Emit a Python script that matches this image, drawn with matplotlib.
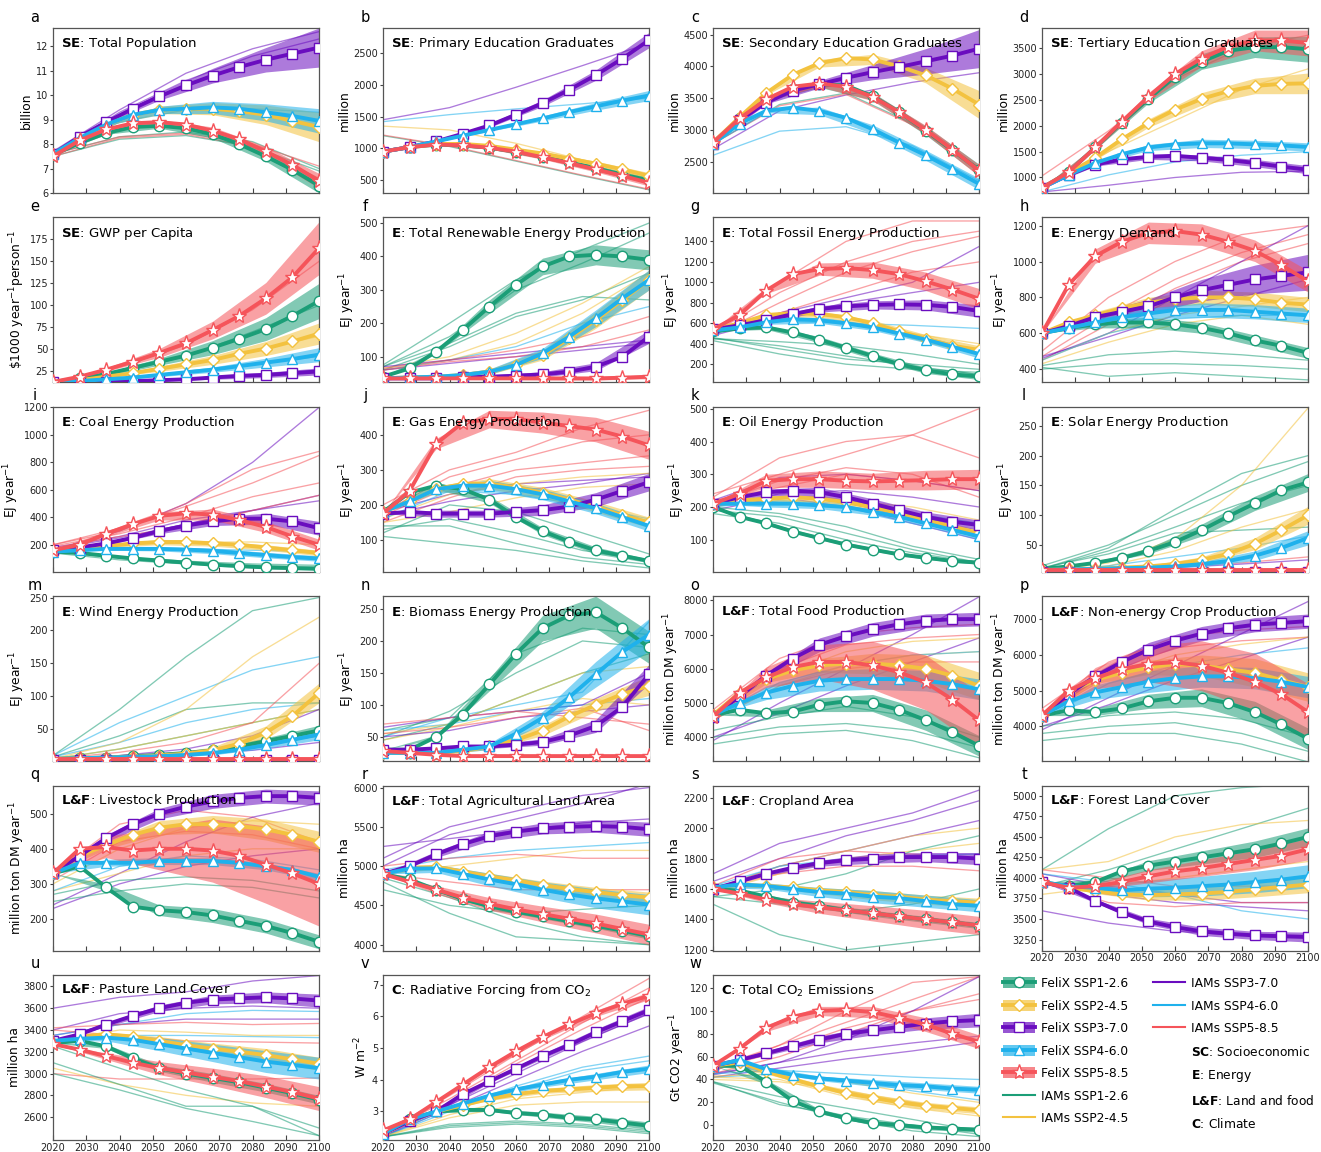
import numpy as np
import matplotlib
matplotlib.use("Agg")
import matplotlib.pyplot as plt
from matplotlib.patches import Patch
from matplotlib.lines import Line2D
from matplotlib.mathtext import MathTextParser

# ---------------- data ----------------
YEARS = [2020, 2028, 2036, 2044, 2052, 2060, 2068, 2076, 2084, 2092, 2100]
BAND_YEARS = [2020, 2036, 2052, 2068, 2084, 2100]
IAM_YEARS = [2020, 2040, 2060, 2080, 2100]
SSP = ["SSP1-2.6", "SSP2-4.5", "SSP3-7.0", "SSP4-6.0", "SSP5-8.5"]

# a: Total Population (billion)
a_felix = [[7.55, 8.05, 8.45, 8.7, 8.75, 8.65, 8.4, 8.0, 7.5, 6.95, 6.3],
           [7.6, 8.25, 8.8, 9.2, 9.4, 9.45, 9.45, 9.35, 9.2, 8.95, 8.7],
           [7.6, 8.3, 8.9, 9.45, 9.95, 10.4, 10.8, 11.15, 11.45, 11.7, 11.95],
           [7.6, 8.25, 8.8, 9.2, 9.4, 9.45, 9.5, 9.45, 9.3, 9.15, 8.95],
           [7.5, 8.15, 8.6, 8.85, 8.9, 8.8, 8.55, 8.2, 7.7, 7.15, 6.5]]
a_band = [[0, 0.05, 0.1, 0.15, 0.2, 0.3], [0, 0.05, 0.15, 0.25, 0.4, 0.6],
          [0, 0.05, 0.15, 0.3, 0.5, 0.8], [0, 0.05, 0.15, 0.25, 0.35, 0.5],
          [0, 0.05, 0.1, 0.15, 0.2, 0.3]]
a_iam = [(0, [7.5, 8.2, 8.35, 7.9, 6.9]), (0, [7.6, 8.3, 8.5, 8.1, 7.0]),
         (4, [7.6, 8.3, 8.45, 8.0, 7.1]), (4, [7.5, 8.25, 8.4, 7.9, 6.6]),
         (1, [7.6, 8.9, 9.4, 9.3, 9.0]), (3, [7.6, 8.9, 9.4, 9.45, 9.3]),
         (2, [7.7, 9.4, 10.9, 11.9, 12.6]), (2, [7.6, 9.3, 10.6, 11.6, 12.3])]

# b: Primary Education Graduates (million)
b_felix = [[950, 1020, 1060, 1050, 1010, 950, 870, 780, 690, 590, 500],
           [950, 1020, 1070, 1070, 1040, 980, 920, 840, 760, 670, 570],
           [950, 1020, 1110, 1230, 1360, 1530, 1710, 1920, 2150, 2410, 2700],
           [950, 1020, 1110, 1200, 1290, 1380, 1470, 1570, 1660, 1750, 1830],
           [950, 1020, 1060, 1050, 1010, 950, 860, 770, 670, 570, 460]]
b_band = [[0, 10, 20, 30, 40, 50], [0, 10, 20, 30, 40, 50], [0, 10, 30, 50, 80, 120],
          [0, 10, 20, 40, 60, 80], [0, 10, 20, 30, 40, 50]]
b_iam = [(2, [1450, 1640, 1960, 2300, 2650]), (3, [1420, 1530, 1620, 1700, 1790]),
         (1, [1350, 1290, 1080, 820, 560]), (0, [1200, 1030, 800, 570, 350]),
         (4, [1210, 1040, 810, 580, 360])]

# c: Secondary Education Graduates (million)
c_felix = [[2800, 3180, 3480, 3650, 3720, 3700, 3530, 3280, 2990, 2680, 2370],
           [2800, 3200, 3580, 3870, 4050, 4130, 4110, 4000, 3860, 3650, 3400],
           [2780, 3150, 3430, 3620, 3720, 3820, 3910, 3990, 4080, 4170, 4280],
           [2780, 3100, 3300, 3350, 3300, 3190, 3010, 2800, 2600, 2380, 2150],
           [2800, 3180, 3480, 3680, 3730, 3680, 3520, 3280, 3000, 2690, 2360]]
c_band = [[0, 20, 50, 60, 70, 90], [0, 30, 60, 80, 120, 220], [0, 20, 60, 120, 200, 300],
          [0, 30, 60, 70, 80, 90], [0, 20, 50, 60, 70, 90]]
c_iam = [(3, [2600, 2980, 3050, 2750, 2200]), (2, [2700, 3300, 3550, 3750, 3900]),
         (0, [2780, 3400, 3580, 3100, 2400]), (4, [2780, 3380, 3560, 3080, 2380])]

# d: Tertiary Education Graduates (million)
d_felix = [[800, 1100, 1580, 2060, 2520, 2950, 3240, 3450, 3520, 3520, 3480],
           [800, 1080, 1380, 1740, 2050, 2310, 2520, 2670, 2770, 2810, 2820],
           [800, 1050, 1250, 1350, 1400, 1420, 1380, 1340, 1280, 1210, 1150],
           [800, 1050, 1280, 1450, 1580, 1640, 1660, 1660, 1640, 1620, 1590],
           [800, 1100, 1580, 2080, 2560, 3000, 3300, 3530, 3650, 3650, 3600]]
d_band = [[0, 40, 80, 150, 200, 250], [0, 40, 80, 120, 150, 200], [0, 30, 50, 60, 70, 80],
          [0, 30, 60, 80, 80, 80], [0, 40, 80, 150, 200, 250]]
d_iam = [(4, [1030, 1900, 2900, 3500, 3750]), (1, [800, 1500, 2100, 2700, 3100]),
         (3, [720, 1050, 1300, 1430, 1500]), (2, [720, 850, 1000, 1100, 1120])]

# e: GWP per capita ($1000 / year / person)
e_felix = [[13, 17, 22, 29, 36, 43, 52, 62, 73, 88, 105],
           [13, 15, 19, 23, 28, 33, 38, 45, 51, 59, 68],
           [13, 13, 13, 14, 15, 16, 18, 20, 21, 23, 25],
           [13, 14, 16, 18, 21, 24, 27, 31, 35, 39, 44],
           [13, 19, 27, 36, 46, 57, 72, 88, 108, 132, 165]]
e_band = [[0, 2, 4, 8, 13, 20], [0, 1, 3, 5, 8, 12], [0, 1, 1, 2, 3, 4],
          [0, 1, 2, 3, 5, 8], [0, 2, 5, 10, 18, 30]]
e_iam = [(4, [13, 30, 55, 95, 150]), (0, [13, 24, 42, 70, 100]), (1, [13, 20, 32, 48, 65]),
         (3, [13, 17, 24, 33, 42]), (2, [13, 14, 17, 21, 26])]

# f: Total Renewable Energy Production (EJ/yr)
f_felix = [[40, 65, 115, 180, 250, 315, 370, 400, 405, 400, 390],
           [35, 38, 40, 45, 55, 75, 105, 155, 210, 270, 330],
           [35, 35, 35, 38, 40, 43, 47, 55, 70, 100, 160],
           [35, 38, 40, 45, 55, 75, 110, 160, 215, 275, 330],
           [35, 35, 35, 35, 35, 35, 35, 35, 35, 37, 40]]
f_band = [[0, 5, 20, 25, 30, 30], [0, 3, 8, 15, 25, 30], [0, 3, 5, 8, 12, 20],
          [0, 3, 8, 15, 25, 30], [0, 2, 3, 4, 5, 6]]
f_iam = [(0, [75, 200, 330, 420, 500]), (0, [70, 160, 300, 380, 470]), (0, [60, 130, 220, 270, 350]),
         (0, [70, 140, 230, 280, 270]), (1, [60, 90, 140, 230, 350]), (1, [65, 100, 170, 260, 370]),
         (3, [60, 90, 130, 200, 250]), (2, [70, 90, 110, 130, 150]), (2, [60, 80, 100, 120, 140]),
         (4, [65, 90, 120, 160, 220]), (4, [60, 85, 100, 130, 180])]

# g: Total Fossil Energy Production (EJ/yr)
g_felix = [[520, 550, 560, 510, 440, 360, 280, 200, 140, 100, 80],
           [540, 600, 680, 700, 690, 660, 600, 520, 450, 380, 340],
           [540, 580, 630, 690, 740, 765, 780, 785, 780, 760, 720],
           [530, 560, 610, 640, 630, 600, 560, 500, 440, 370, 300],
           [540, 680, 920, 1080, 1130, 1140, 1120, 1080, 1010, 930, 840]]
g_band = [[0, 20, 30, 30, 30, 30], [0, 20, 30, 30, 40, 40], [0, 20, 30, 40, 50, 60],
          [0, 20, 30, 30, 30, 40], [0, 30, 60, 80, 90, 100]]
g_iam = [(4, [500, 900, 1200, 1400, 1500]), (4, [480, 800, 1100, 1300, 1450]),
         (4, [520, 1000, 1400, 1600, 1600]), (4, [500, 700, 900, 1100, 1200]),
         (2, [480, 650, 800, 900, 1000]), (2, [500, 700, 850, 1000, 1350]),
         (1, [500, 650, 600, 500, 400]), (3, [500, 620, 600, 580, 550]),
         (0, [450, 420, 380, 300, 200]), (0, [460, 350, 250, 200, 150]),
         (0, [430, 300, 200, 150, 120]), (0, [450, 380, 280, 180, 100])]

# h: Energy Demand (EJ/yr)
h_felix = [[600, 630, 650, 660, 660, 650, 630, 600, 560, 530, 490],
           [600, 660, 700, 740, 770, 790, 800, 800, 790, 770, 760],
           [600, 640, 690, 720, 750, 800, 840, 870, 900, 920, 940],
           [600, 630, 660, 690, 710, 730, 730, 730, 720, 710, 700],
           [600, 870, 1030, 1110, 1160, 1170, 1150, 1110, 1060, 980, 890]]
h_band = [[0, 20, 30, 30, 30, 30], [0, 20, 30, 40, 40, 40], [0, 20, 40, 60, 80, 100],
          [0, 20, 30, 40, 40, 40], [0, 40, 60, 60, 60, 60]]
h_iam = [(4, [470, 700, 900, 1050, 1150]), (4, [500, 800, 1000, 1150, 1200]),
         (4, [450, 650, 850, 1000, 1100]), (2, [460, 600, 800, 1000, 1200]),
         (2, [470, 580, 700, 800, 900]), (1, [450, 600, 700, 750, 800]),
         (1, [430, 550, 650, 700, 650]), (3, [450, 600, 680, 700, 700]),
         (0, [420, 480, 500, 480, 450]), (0, [400, 430, 430, 420, 400]),
         (0, [410, 360, 380, 360, 340])]

# i: Coal Energy Production (EJ/yr)
i_felix = [[150, 140, 120, 100, 85, 70, 55, 45, 35, 30, 25],
           [160, 170, 190, 210, 220, 220, 210, 200, 180, 160, 140],
           [160, 180, 210, 250, 300, 340, 370, 390, 390, 370, 320],
           [150, 160, 170, 170, 170, 165, 155, 140, 125, 110, 100],
           [160, 200, 280, 350, 410, 430, 420, 380, 330, 260, 200]]
i_band = [[0, 10, 10, 10, 10, 10], [0, 10, 20, 20, 20, 20], [0, 10, 20, 30, 40, 50],
          [0, 10, 15, 20, 20, 20], [0, 20, 30, 40, 40, 40]]
i_iam = [(2, [160, 300, 500, 800, 1200]), (2, [180, 260, 380, 450, 520]),
         (2, [170, 250, 350, 450, 560]), (4, [200, 300, 500, 750, 880]),
         (4, [190, 280, 400, 550, 650]), (4, [180, 260, 330, 450, 560]),
         (4, [200, 320, 480, 650, 850]), (1, [170, 200, 220, 220, 200]),
         (3, [160, 170, 170, 160, 150]), (0, [150, 110, 80, 60, 50]), (0, [140, 90, 60, 50, 40])]

# j: Gas Energy Production (EJ/yr)
j_felix = [[180, 235, 255, 245, 215, 165, 125, 95, 70, 55, 40],
           [180, 210, 245, 260, 260, 250, 235, 215, 195, 170, 150],
           [175, 180, 175, 175, 175, 180, 185, 195, 215, 240, 265],
           [180, 210, 245, 255, 255, 245, 230, 210, 190, 165, 140],
           [175, 240, 375, 435, 445, 445, 435, 425, 415, 395, 370]]
j_band = [[0, 10, 10, 10, 10, 5], [0, 10, 15, 15, 15, 15], [0, 10, 10, 15, 20, 25],
          [0, 10, 15, 15, 15, 15], [0, 15, 25, 30, 35, 40]]
j_iam = [(4, [200, 300, 350, 420, 470]), (4, [180, 280, 330, 380, 400]),
         (4, [170, 250, 300, 320, 340]), (4, [150, 220, 280, 300, 310]),
         (2, [170, 210, 240, 260, 290]), (2, [180, 230, 260, 270, 280]),
         (1, [160, 230, 260, 280, 290]), (1, [150, 180, 220, 250, 260]),
         (3, [160, 240, 230, 200, 160]), (0, [120, 200, 180, 120, 60]),
         (0, [110, 90, 70, 40, 20]), (0, [130, 160, 120, 70, 40]), (0, [140, 140, 90, 50, 30])]

# k: Oil Energy Production (EJ/yr)
k_felix = [[200, 170, 150, 125, 105, 85, 70, 55, 45, 35, 30],
           [210, 220, 225, 230, 225, 215, 200, 180, 160, 140, 120],
           [210, 230, 245, 250, 245, 230, 210, 190, 170, 155, 145],
           [210, 210, 210, 210, 205, 200, 185, 170, 150, 130, 110],
           [210, 240, 280, 285, 285, 280, 278, 280, 282, 285, 285]]
k_band = [[0, 5, 5, 5, 5, 5], [0, 10, 10, 10, 10, 10], [0, 10, 15, 15, 15, 15],
          [0, 10, 10, 10, 10, 10], [0, 20, 25, 25, 30, 30]]
k_iam = [(4, [230, 350, 400, 420, 500]), (4, [240, 300, 360, 420, 350]),
         (4, [220, 260, 300, 280, 250]), (4, [210, 280, 320, 300, 230]),
         (2, [220, 290, 300, 280, 250]), (2, [200, 240, 250, 230, 200]),
         (2, [190, 230, 200, 150, 100]), (1, [200, 230, 220, 200, 160]),
         (3, [200, 220, 210, 180, 150]), (0, [200, 180, 140, 80, 40]),
         (0, [190, 170, 120, 70, 30]), (0, [180, 150, 100, 60, 30])]

# l: Solar Energy Production (EJ/yr)
l_felix = [[10, 14, 20, 28, 40, 55, 75, 98, 120, 142, 155],
           [8, 9, 10, 12, 14, 18, 25, 35, 52, 75, 100],
           [5, 5, 5, 5, 5, 5, 5, 5, 5, 5, 5],
           [8, 9, 10, 11, 12, 14, 18, 23, 32, 45, 62],
           [8, 8, 8, 8, 8, 8, 8, 8, 8, 8, 8]]
l_band = [[0, 2, 5, 10, 12, 15], [0, 1, 2, 5, 10, 15], [0, 0, 0, 0, 0, 1],
          [0, 1, 2, 4, 8, 12], [0, 1, 1, 1, 1, 1]]
l_iam = [(0, [10, 45, 110, 170, 200]), (0, [15, 50, 100, 150, 190]),
         (0, [10, 40, 80, 120, 150]), (0, [12, 35, 70, 75, 80]),
         (1, [5, 20, 60, 150, 280]), (1, [5, 15, 40, 80, 110]),
         (3, [5, 15, 30, 45, 65]), (4, [5, 10, 15, 20, 30]), (2, [3, 8, 12, 18, 25])]

# m: Wind Energy Production (EJ/yr)
m_felix = [[5, 6, 7, 9, 11, 14, 18, 24, 32, 40, 48],
           [5, 6, 7, 8, 10, 13, 18, 28, 45, 70, 105],
           [3, 3, 3, 3, 3, 3, 3, 3, 3, 3, 3],
           [5, 6, 7, 8, 9, 11, 14, 19, 26, 34, 42],
           [5, 5, 5, 5, 5, 5, 5, 5, 5, 5, 5]]
m_band = [[0, 1, 2, 3, 5, 8], [0, 1, 2, 5, 10, 15], [0, 0, 0, 0, 1, 1],
          [0, 1, 2, 3, 5, 8], [0, 0, 0, 0, 1, 1]]
m_iam = [(0, [10, 80, 160, 230, 250]), (0, [8, 40, 80, 90, 90]), (0, [5, 20, 40, 60, 80]),
         (3, [10, 60, 100, 140, 160]), (3, [8, 30, 60, 80, 90]),
         (1, [5, 30, 80, 160, 220]), (1, [5, 20, 40, 60, 80]),
         (4, [5, 15, 30, 60, 150]), (4, [5, 10, 15, 25, 40]),
         (2, [4, 10, 20, 40, 80]), (2, [3, 8, 12, 18, 30])]

# n: Biomass Energy Production (EJ/yr)
n_felix = [[30, 30, 50, 85, 132, 180, 220, 240, 245, 220, 190],
           [25, 25, 25, 28, 35, 45, 60, 82, 100, 117, 130],
           [30, 30, 32, 35, 35, 38, 42, 52, 67, 97, 148],
           [25, 25, 25, 30, 35, 55, 80, 112, 148, 183, 210],
           [28, 25, 22, 20, 20, 20, 20, 20, 20, 20, 20]]
n_band = [[0, 3, 10, 20, 25, 25], [0, 2, 5, 8, 10, 15], [0, 2, 3, 5, 10, 15],
          [0, 2, 5, 10, 20, 25], [0, 1, 1, 1, 1, 1]]
n_iam = [(0, [60, 80, 180, 220, 210]), (0, [50, 90, 150, 200, 190]), (0, [45, 70, 110, 150, 180]),
         (3, [50, 80, 100, 120, 230]), (3, [60, 70, 90, 100, 110]),
         (1, [55, 70, 110, 150, 160]), (1, [45, 65, 90, 110, 100]),
         (2, [65, 80, 90, 100, 150]), (2, [50, 60, 80, 90, 100]),
         (4, [70, 80, 90, 80, 70]), (4, [55, 65, 80, 95, 60])]

# o: Total Food Production (million ton DM/yr)
o_felix = [[4650, 4800, 4700, 4750, 4950, 5050, 5000, 4800, 4500, 4150, 3750],
           [4650, 5300, 5700, 5950, 6100, 6150, 6150, 6100, 6000, 5800, 5500],
           [4600, 5200, 5800, 6300, 6700, 6950, 7150, 7300, 7400, 7450, 7450],
           [4650, 5000, 5300, 5500, 5650, 5700, 5700, 5700, 5650, 5550, 5400],
           [4600, 5300, 5750, 6050, 6200, 6200, 6100, 5900, 5600, 5100, 4500]]
o_band = [[0, 100, 200, 250, 300, 300], [0, 100, 200, 300, 400, 400], [0, 100, 200, 200, 200, 200],
          [0, 200, 300, 300, 300, 300], [0, 300, 500, 700, 800, 800]]
o_iam = [(4, [4800, 6300, 7000, 7200, 7300]), (4, [4600, 6000, 6700, 6900, 7000]),
         (4, [4500, 5500, 6000, 6200, 6200]), (2, [3900, 5000, 6000, 7000, 8100]),
         (2, [4000, 4700, 5500, 6200, 6900]), (1, [4600, 5800, 6500, 6800, 6900]),
         (1, [4500, 5500, 6100, 6400, 6500]), (3, [4500, 5600, 6100, 6400, 6500]),
         (0, [4200, 4600, 4900, 4600, 4000]), (0, [4000, 4300, 4400, 4200, 3700]),
         (0, [3800, 4100, 4200, 3900, 3400])]

# p: Non-energy Crop Production (million ton DM/yr)
p_felix = [[4300, 4450, 4400, 4500, 4700, 4800, 4800, 4650, 4400, 4050, 3650],
           [4300, 4950, 5300, 5500, 5650, 5750, 5700, 5600, 5500, 5300, 5100],
           [4300, 4900, 5400, 5800, 6150, 6400, 6600, 6750, 6850, 6900, 6950],
           [4300, 4700, 4950, 5100, 5250, 5350, 5400, 5400, 5350, 5250, 5100],
           [4300, 5000, 5350, 5600, 5750, 5800, 5700, 5500, 5250, 4900, 4400]]
p_band = [[0, 100, 200, 250, 300, 300], [0, 100, 200, 300, 400, 400], [0, 100, 200, 200, 200, 200],
          [0, 200, 300, 300, 300, 300], [0, 300, 500, 700, 800, 800]]
p_iam = [(4, [4500, 5800, 6500, 6700, 6800]), (4, [4300, 5500, 6200, 6400, 6500]),
         (2, [3900, 4800, 5700, 6600, 7500]), (2, [4000, 4600, 5300, 5900, 6500]),
         (1, [4300, 5400, 6000, 6300, 6500]), (3, [4200, 5200, 5700, 6000, 6200]),
         (0, [4000, 4300, 4400, 4200, 3700]), (0, [3800, 4000, 4100, 3800, 3300]),
         (0, [3600, 3800, 3800, 3500, 3000])]

# q: Livestock Production (million ton DM/yr)
q_felix = [[330, 350, 290, 235, 225, 220, 210, 195, 180, 160, 135],
           [330, 380, 410, 440, 460, 470, 470, 465, 455, 440, 420],
           [330, 380, 430, 470, 500, 520, 535, 545, 550, 550, 545],
           [330, 360, 360, 360, 365, 365, 365, 360, 350, 340, 320],
           [330, 400, 405, 395, 400, 400, 395, 380, 355, 330, 300]]
q_band = [[0, 10, 15, 20, 20, 20], [0, 10, 20, 25, 30, 30], [0, 10, 15, 20, 20, 20],
          [0, 10, 10, 10, 10, 10], [0, 30, 60, 90, 110, 120]]
q_iam = [(4, [330, 470, 510, 490, 420]), (4, [310, 420, 450, 440, 400]),
         (2, [240, 330, 420, 490, 530]), (2, [230, 300, 350, 380, 400]),
         (1, [300, 400, 460, 480, 470]), (1, [280, 330, 380, 400, 400]),
         (3, [280, 350, 380, 370, 340]), (0, [270, 310, 320, 310, 280]),
         (0, [250, 280, 300, 290, 260])]

# r: Total Agricultural Land Area (million ha)
r_felix = [[4900, 4830, 4700, 4580, 4490, 4420, 4360, 4300, 4240, 4180, 4110],
           [4900, 4980, 4990, 4930, 4870, 4820, 4760, 4710, 4670, 4630, 4600],
           [4900, 5000, 5150, 5280, 5380, 5440, 5480, 5500, 5510, 5500, 5470],
           [4900, 4970, 4970, 4900, 4830, 4770, 4700, 4640, 4590, 4550, 4510],
           [4900, 4800, 4700, 4600, 4520, 4450, 4390, 4330, 4270, 4200, 4130]]
r_band = [[0, 20, 30, 30, 30, 40], [0, 30, 40, 50, 60, 70], [0, 40, 60, 70, 80, 90],
          [0, 50, 80, 100, 120, 130], [0, 50, 80, 100, 120, 130]]
r_iam = [(2, [5000, 5400, 5600, 5800, 6050]), (2, [5100, 5500, 5700, 5900, 6000]),
         (2, [5250, 5350, 5450, 5550, 5600]), (3, [4950, 5100, 5200, 5250, 5300]),
         (1, [4900, 5000, 5100, 5200, 5200]), (4, [5000, 5100, 5150, 5100, 5100]),
         (4, [4900, 4800, 4700, 4700, 4700]), (0, [4850, 4600, 4300, 4100, 4000]),
         (0, [4700, 4500, 4400, 4450, 4500]), (0, [4800, 4400, 4100, 4050, 4000])]

# s: Cropland Area (million ha)
s_felix = [[1600, 1590, 1550, 1510, 1490, 1460, 1440, 1420, 1400, 1380, 1360],
           [1610, 1630, 1620, 1610, 1590, 1580, 1560, 1550, 1530, 1520, 1510],
           [1600, 1650, 1700, 1740, 1770, 1790, 1800, 1810, 1810, 1810, 1800],
           [1610, 1630, 1620, 1600, 1580, 1570, 1550, 1540, 1520, 1500, 1490],
           [1600, 1570, 1530, 1500, 1480, 1460, 1440, 1420, 1400, 1380, 1360]]
s_band = [[0, 10, 15, 20, 20, 20], [0, 10, 20, 30, 30, 30], [0, 10, 20, 30, 30, 40],
          [0, 20, 30, 40, 40, 40], [0, 20, 40, 50, 60, 60]]
s_iam = [(2, [1650, 1800, 1950, 2050, 2180]), (2, [1700, 1900, 2000, 2100, 2250]),
         (2, [1600, 1750, 1850, 1950, 2050]), (4, [1620, 1800, 1850, 1830, 1800]),
         (4, [1600, 1700, 1750, 1750, 1720]), (1, [1600, 1750, 1850, 1950, 2000]),
         (1, [1580, 1700, 1800, 1850, 1900]), (3, [1620, 1750, 1800, 1820, 1830]),
         (0, [1550, 1500, 1450, 1500, 1600]), (0, [1500, 1300, 1200, 1250, 1300]),
         (0, [1550, 1600, 1700, 1850, 1950])]

# t: Forest Land Cover (million ha)
t_felix = [[3950, 3900, 3950, 4080, 4150, 4200, 4250, 4300, 4350, 4420, 4500],
           [3950, 3880, 3840, 3800, 3790, 3800, 3810, 3830, 3860, 3890, 3920],
           [3950, 3880, 3720, 3580, 3470, 3400, 3350, 3320, 3300, 3290, 3280],
           [3950, 3900, 3880, 3850, 3870, 3880, 3900, 3920, 3950, 3980, 4020],
           [3950, 3880, 3900, 3950, 4020, 4080, 4120, 4170, 4220, 4270, 4350]]
t_band = [[0, 30, 60, 80, 100, 110], [0, 30, 60, 80, 90, 100], [0, 20, 40, 50, 50, 60],
          [0, 50, 100, 120, 130, 140], [0, 40, 80, 100, 120, 130]]
t_iam = [(0, [4100, 4600, 5000, 5100, 5150]), (0, [3900, 4100, 4350, 4600, 4850]),
         (1, [4100, 4200, 4500, 4650, 4700]), (1, [3800, 3900, 4000, 4100, 4200]),
         (2, [3950, 3800, 3700, 3650, 3600]), (2, [3600, 3450, 3350, 3300, 3300]),
         (2, [4050, 3900, 3800, 3700, 3700]), (3, [4050, 3950, 3800, 3600, 3500]),
         (4, [3950, 3700, 3650, 3700, 3700]), (4, [4100, 4000, 3900, 3900, 3900])]

# u: Pasture Land Cover (million ha)
u_felix = [[3280, 3300, 3250, 3140, 3050, 3000, 2960, 2920, 2870, 2820, 2760],
           [3300, 3340, 3360, 3340, 3300, 3260, 3230, 3200, 3170, 3130, 3090],
           [3300, 3360, 3450, 3530, 3600, 3650, 3680, 3690, 3700, 3690, 3670],
           [3300, 3320, 3330, 3310, 3270, 3230, 3190, 3150, 3110, 3080, 3050],
           [3270, 3220, 3160, 3100, 3050, 3010, 2970, 2930, 2880, 2830, 2770]]
u_band = [[0, 20, 30, 40, 40, 40], [0, 20, 40, 50, 60, 60], [0, 20, 30, 40, 50, 60],
          [0, 30, 60, 80, 100, 100], [0, 30, 60, 80, 100, 110]]
u_iam = [(2, [3600, 3700, 3750, 3850, 3900]), (2, [3350, 3450, 3500, 3500, 3500]),
         (2, [3400, 3550, 3600, 3620, 3600]), (3, [3350, 3450, 3550, 3580, 3570]),
         (3, [3300, 3350, 3350, 3340, 3330]), (4, [3420, 3450, 3470, 3450, 3460]),
         (4, [3400, 3350, 3300, 3290, 3280]), (4, [3000, 2950, 2950, 2950, 2960]),
         (1, [3300, 3400, 3380, 3350, 3350]), (1, [3050, 2900, 2800, 2730, 2700]),
         (0, [3100, 2900, 2700, 2700, 2500]), (0, [3000, 2850, 2680, 2560, 2430]),
         (0, [3250, 3050, 2850, 2700, 2430])]

# v: Radiative Forcing from CO2 (W m-2)
v_felix = [[2.3, 2.75, 3.0, 3.05, 3.05, 2.95, 2.9, 2.8, 2.75, 2.65, 2.55],
           [2.3, 2.7, 3.0, 3.2, 3.4, 3.55, 3.65, 3.7, 3.75, 3.8, 3.8],
           [2.3, 2.7, 3.0, 3.55, 3.95, 4.35, 4.75, 5.1, 5.5, 5.85, 6.2],
           [2.3, 2.75, 3.0, 3.25, 3.5, 3.7, 3.85, 4.0, 4.1, 4.25, 4.35],
           [2.4, 2.75, 3.3, 3.85, 4.4, 4.9, 5.35, 5.75, 6.1, 6.4, 6.65]]
v_band = [[0, 0.03, 0.05, 0.08, 0.1, 0.12]] * 5
v_iam = [(4, [2.3, 3.5, 4.8, 6.0, 7.2]), (4, [2.3, 3.4, 4.6, 5.8, 6.9]),
         (4, [2.2, 3.3, 4.5, 5.6, 6.6]), (2, [2.2, 3.2, 4.2, 5.2, 6.1]),
         (2, [2.2, 3.1, 4.0, 4.9, 5.7]), (3, [2.2, 3.1, 3.8, 4.4, 4.75]),
         (3, [2.2, 3.0, 3.7, 4.3, 4.6]), (1, [2.2, 2.9, 3.4, 3.6, 3.8]),
         (1, [2.2, 2.8, 3.2, 3.3, 3.3]), (0, [2.2, 2.6, 2.7, 2.6, 2.4]),
         (0, [2.2, 2.5, 2.6, 2.5, 2.3]), (0, [2.2, 2.55, 2.65, 2.55, 2.35])]

# w: Total CO2 Emissions (Gt CO2/yr)
w_felix = [[52, 52, 38, 21, 12, 6, 2, 0, -2, -3, -4],
           [52, 55, 47, 40, 34, 28, 24, 20, 17, 15, 13],
           [52, 57, 63, 69, 75, 80, 83, 86, 89, 91, 92],
           [52, 57, 49, 44, 41, 39, 37, 35, 34, 32, 31],
           [52, 67, 85, 95, 100, 101, 99, 94, 88, 80, 73]]
w_band = [[0, 2, 2, 2, 2, 2], [0, 2, 2, 3, 3, 3], [0, 2, 3, 4, 5, 6],
          [0, 2, 2, 3, 3, 3], [0, 3, 4, 5, 6, 6]]
w_iam = [(4, [50, 70, 90, 110, 130]), (4, [48, 65, 85, 100, 115]),
         (4, [45, 60, 80, 100, 110]), (4, [47, 70, 100, 125, 130]),
         (2, [45, 55, 75, 100, 130]), (2, [44, 55, 65, 72, 78]), (2, [42, 50, 58, 65, 73]),
         (3, [45, 48, 45, 42, 40]), (3, [42, 45, 40, 30, 22]),
         (1, [43, 45, 38, 28, 20]), (1, [40, 38, 30, 20, 12]), (1, [42, 40, 25, 15, 8]),
         (0, [38, 25, 15, 5, -5]), (0, [38, 18, 8, 0, -8]), (0, [37, 20, 5, -5, -10])]

EJ = r"EJ year$^{-1}$"
DM = r"million ton DM year$^{-1}$"
PANELS = [
    ("a", "SE", "Total Population", "billion", (6, 12.75), [6, 7, 8, 9, 10, 11, 12], a_felix, a_band, a_iam),
    ("b", "SE", "Primary Education Graduates", "million", (300, 2890), [500, 1000, 1500, 2000, 2500], b_felix, b_band, b_iam),
    ("c", "SE", "Secondary Education Graduates", "million", (2006, 4605), [2500, 3000, 3500, 4000, 4500], c_felix, c_band, c_iam),
    ("d", "SE", "Tertiary Education Graduates", "million", (700, 3890), [1000, 1500, 2000, 2500, 3000, 3500], d_felix, d_band, d_iam),
    ("e", "SE", "GWP per Capita", r"\$1000 year$^{-1}$person$^{-1}$", (12.5, 200), [25, 50, 75, 100, 125, 150, 175], e_felix, e_band, e_iam),
    ("f", "E", "Total Renewable Energy Production", EJ, (23, 517), [100, 200, 300, 400, 500], f_felix, f_band, f_iam),
    ("g", "E", "Total Fossil Energy Production", EJ, (22, 1635), [200, 400, 600, 800, 1000, 1200, 1400], g_felix, g_band, g_iam),
    ("h", "E", "Energy Demand", EJ, (326, 1246), [400, 600, 800, 1000, 1200], h_felix, h_band, h_iam),
    ("i", "E", "Coal Energy Production", EJ, (3, 1205), [200, 400, 600, 800, 1000, 1200], i_felix, i_band, i_iam),
    ("j", "E", "Gas Energy Production", EJ, (9, 480), [100, 200, 300, 400], j_felix, j_band, j_iam),
    ("k", "E", "Oil Energy Production", EJ, (2, 506), [100, 200, 300, 400, 500], k_felix, k_band, k_iam),
    ("l", "E", "Solar Energy Production", EJ, (5, 282), [50, 100, 150, 200, 250], l_felix, l_band, l_iam),
    ("m", "E", "Wind Energy Production", EJ, (1.5, 252), [50, 100, 150, 200, 250], m_felix, m_band, m_iam),
    ("n", "E", "Biomass Energy Production", EJ, (12, 270), [50, 100, 150, 200, 250], n_felix, n_band, n_iam),
    ("o", "L&F", "Total Food Production", DM, (3300, 8120), [4000, 5000, 6000, 7000, 8000], o_felix, o_band, o_iam),
    ("p", "L&F", "Non-energy Crop Production", DM, (3020, 7650), [4000, 5000, 6000, 7000], p_felix, p_band, p_iam),
    ("q", "L&F", "Livestock Production", DM, (110, 580), [200, 300, 400, 500], q_felix, q_band, q_iam),
    ("r", "L&F", "Total Agricultural Land Area", "million ha", (3925, 6025), [4000, 4500, 5000, 5500, 6000], r_felix, r_band, r_iam),
    ("s", "L&F", "Cropland Area", "million ha", (1195, 2280), [1200, 1400, 1600, 1800, 2000, 2200], s_felix, s_band, s_iam),
    ("t", "L&F", "Forest Land Cover", "million ha", (3115, 5125), [3250, 3500, 3750, 4000, 4250, 4500, 4750, 5000], t_felix, t_band, t_iam),
    ("u", "L&F", "Pasture Land Cover", "million ha", (2390, 3905), [2600, 2800, 3000, 3200, 3400, 3600, 3800], u_felix, u_band, u_iam),
    ("v", "C", r"Radiative Forcing from CO$_2$", r"W m$^{-2}$", (2.1, 7.31), [3, 4, 5, 6, 7], v_felix, v_band, v_iam),
    ("w", "C", r"Total CO$_2$ Emissions", r"Gt CO2 year$^{-1}$", (-13, 131.5), [0, 20, 40, 60, 80, 100, 120], w_felix, w_band, w_iam),
]
XTICKS = [2020, 2030, 2040, 2050, 2060, 2070, 2080, 2090, 2100]

# ---------------- style ----------------
COLORS = ["#1b9e77", "#f3c23f", "#6a0dbf", "#1fb1ec", "#f5545a"]
MARKERS = ["o", "D", "s", "^", "*"]
MSIZES = [7.5, 6.0, 6.5, 7.5, 11.0]

plt.rcParams["font.family"] = ["DejaVu Sans"]
plt.rcParams["mathtext.fontset"] = "dejavusans"
plt.rcParams["axes.linewidth"] = 0.9
plt.rcParams["axes.edgecolor"] = "#555555"

_mp = MathTextParser("path")

def _ok(s):
    try:
        _mp.parse(s, 72)
        return True
    except Exception:
        return False

def tagtext(tag, title):
    cands = [r"$\mathbf{" + tag + "}$: " + title]
    if "&" in tag:
        a_, b_ = tag.split("&")
        cands.append(r"$\mathbf{" + a_ + r"}$&$\mathbf{" + b_ + "}$: " + title)
    for cnd in cands:
        if _ok(cnd):
            return cnd
    return tag + ": " + title

W, H = 1321, 1152
fig = plt.figure(figsize=(W / 100, H / 100), dpi=100)
LEFTS = [53, 383, 713, 1042]
TOPS = [28, 217.4, 406.8, 596.2, 785.6, 975]
AW, AH = 266, 165

for idx, (letter, tag, title, ylabel, ylim, yticks, felix, band, iam) in enumerate(PANELS):
    r, c = divmod(idx, 4)
    l, t = LEFTS[c], TOPS[r]
    ax = fig.add_axes([l / W, 1 - (t + AH) / H, AW / W, AH / H])
    for k, vals in iam:
        ax.plot(IAM_YEARS, vals, color=COLORS[k], lw=0.95, alpha=0.55, zorder=1)
    for k in range(5):
        y = np.array(felix[k], dtype=float)
        hw = np.array(band[k], dtype=float)
        yc = y[::2]
        ax.fill_between(BAND_YEARS, yc - hw, yc + hw, color=COLORS[k], alpha=0.55, lw=0, zorder=2)
    for k in range(5):
        ax.plot(YEARS, felix[k], color=COLORS[k], lw=2.8, marker=MARKERS[k], ms=MSIZES[k],
                mfc="white", mec=COLORS[k], mew=1.0, zorder=3)
    ax.set_xlim(2020, 2100)
    ax.set_ylim(*ylim)
    ax.set_yticks(yticks)
    ax.set_xticks(XTICKS)
    ax.tick_params(axis="x", direction="in", length=3.5, width=0.8, labelsize=7, pad=2,
                   color="#444444", labelcolor="#222222")
    ax.tick_params(axis="y", direction="out", length=2.5, width=0.8, labelsize=7, pad=1,
                   color="#444444", labelcolor="#222222")
    if not (r == 5 or letter == "t"):
        ax.set_xticklabels([])
    ax.set_ylabel(ylabel, fontsize=8.8, labelpad=2)
    ax.text(0.03, 0.955, tagtext(tag, title), transform=ax.transAxes, fontsize=9.5,
            ha="left", va="top", zorder=5)
    fig.text((l - 18) / W, 1 - (t - 11) / H, letter, fontsize=10.5, ha="center", va="center")

# ---------------- legend ----------------
handles, labels = [], []
for k in range(5):
    handles.append((Patch(facecolor=COLORS[k], alpha=0.7, lw=0),
                    Line2D([], [], color=COLORS[k], lw=2.8, marker=MARKERS[k], ms=MSIZES[k],
                           mfc="white", mec=COLORS[k])))
    labels.append("FeliX " + SSP[k])
for k in range(5):
    handles.append(Line2D([], [], color=COLORS[k], lw=1.5))
    labels.append("IAMs " + SSP[k])
for tg, txt in [("SC", "Socioeconomic"), ("E", "Energy"), ("L&F", "Land and food"), ("C", "Climate")]:
    handles.append(Line2D([], [], alpha=0))
    labels.append(tagtext(tg, txt))

fig.legend(handles, labels, loc="upper left", bbox_to_anchor=(1003 / W, 1 - 977 / H),
           ncol=2, frameon=False, fontsize=8.8, handlelength=2.6, handleheight=1.0,
           handletextpad=0.5, labelspacing=0.78, columnspacing=2.0, borderpad=0, borderaxespad=0)

fig.savefig("out.png", dpi=100)
